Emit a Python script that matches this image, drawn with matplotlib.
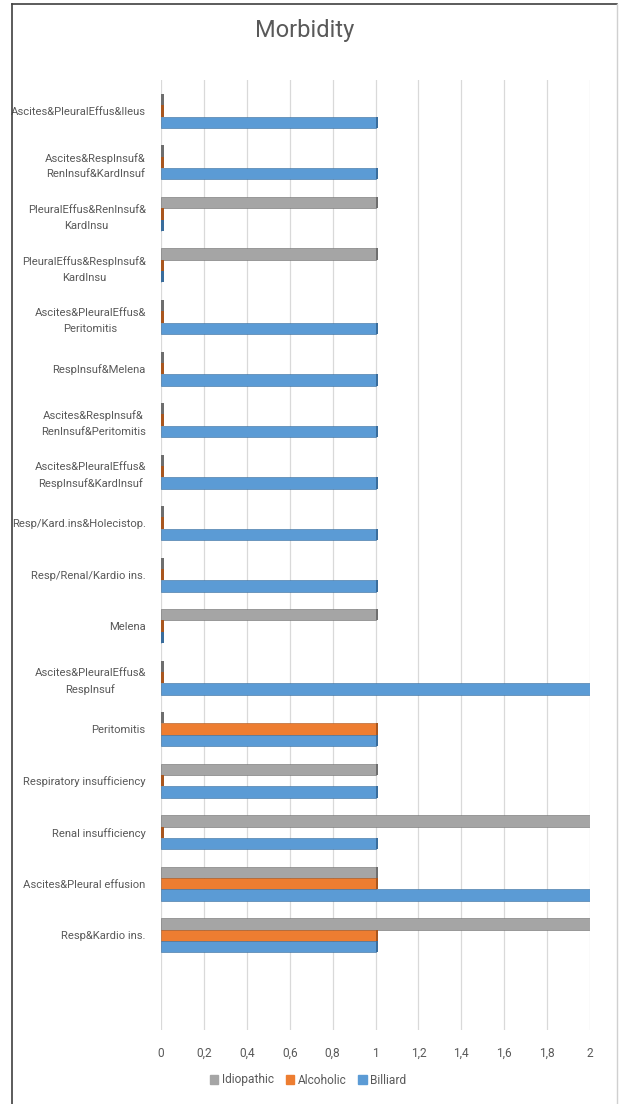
import matplotlib.pyplot as plt
import numpy as np
from matplotlib.patches import Patch
from matplotlib.lines import Line2D

GRAY = "#A5A5A5"
ORANGE = "#ED7D31"
BLUE = "#5B9BD5"
GRAY_SIDE = "#6E6E6E"
ORANGE_SIDE = "#A9561E"
BLUE_SIDE = "#3A6D9C"
TEXT = "#595959"

# bottom -> top
categories = [
    "Resp&Kardio ins.",
    "Ascites&Pleural effusion",
    "Renal insufficiency",
    "Respiratory insufficiency",
    "Peritomitis",
    "Ascites&PleuralEffus&\nRespInsuf",
    "Melena",
    "Resp/Renal/Kardio ins.",
    "Resp/Kard.ins&Holecistop.",
    "Ascites&PleuralEffus&\nRespInsuf&KardInsuf",
    "Ascites&RespInsuf&\nRenInsuf&Peritomitis",
    "RespInsuf&Melena",
    "Ascites&PleuralEffus&\nPeritomitis",
    "PleuralEffus&RespInsuf&\nKardInsu",
    "PleuralEffus&RenInsuf&\nKardInsu",
    "Ascites&RespInsuf&\nRenInsuf&KardInsuf",
    "Ascites&PleuralEffus&Ileus",
]
idiopathic = [2, 1, 2, 1, 0, 0, 1, 0, 0, 0, 0, 0, 0, 1, 1, 0, 0]
alcoholic = [1, 1, 0, 0, 1, 0, 0, 0, 0, 0, 0, 0, 0, 0, 0, 0, 0]
billiard = [1, 2, 1, 1, 1, 2, 0, 1, 1, 1, 1, 1, 1, 0, 0, 1, 1]
ticks = [0, 0.2, 0.4, 0.6, 0.8, 1, 1.2, 1.4, 1.6, 1.8, 2]
tick_labels = ["0", "0,2", "0,4", "0,6", "0,8", "1", "1,2", "1,4", "1,6", "1,8", "2"]

plt.rcParams["font.family"] = ["Roboto", "DejaVu Sans"]

W, H = 627, 1104
fig = plt.figure(figsize=(W / 100, H / 100), dpi=100)
fig.patch.set_facecolor("white")

ax = fig.add_axes([161 / W, 1 - 1030 / H, 429 / W, 950 / H])

y = np.arange(len(categories))
h = 0.22
depth = 0.013
series = [
    (idiopathic, h, GRAY, GRAY_SIDE),
    (alcoholic, 0, ORANGE, ORANGE_SIDE),
    (billiard, -h, BLUE, BLUE_SIDE),
]
for vals, off, col, side in series:
    vals = np.array(vals, dtype=float)
    ax.barh(y + off, vals, height=h, color=col, edgecolor=side, linewidth=0.4, zorder=3)
    ax.barh(y + off, depth, left=vals, height=h, color=side, linewidth=0, zorder=3)

ax.set_xlim(0, 2)
ax.set_ylim(-1.84, 16.6)
ax.set_xticks(ticks)
ax.set_xticklabels(tick_labels)
ax.set_yticks(y)
ax.set_yticklabels(categories, multialignment="center", linespacing=1.7)
ax.tick_params(axis="x", length=0, pad=12, labelsize=8.6, labelcolor=TEXT)
ax.tick_params(axis="y", length=0, pad=11, labelsize=8.1, labelcolor=TEXT)
ax.grid(axis="x", color="#D9D9D9", linewidth=0.9, zorder=0)
ax.grid(axis="y", visible=False)
for s in ax.spines.values():
    s.set_visible(False)

fig.text(305 / W, 1 - 30 / H, "Morbidity", ha="center", va="center", fontsize=17, color=TEXT)

handles = [Patch(color=GRAY), Patch(color=ORANGE), Patch(color=BLUE)]
fig.legend(handles, ["Idiopathic", "Alcoholic", "Billiard"], loc="center",
           bbox_to_anchor=(308 / W, 1 - 1080 / H), ncol=3, frameon=False,
           fontsize=8.6, labelcolor=TEXT, handlelength=0.7, handleheight=0.7,
           handletextpad=0.3, columnspacing=1.0)

# chart border
fig.add_artist(Line2D([12 / W, 12 / W], [0, 1 - 4 / H], color="#404040", linewidth=1.2))
fig.add_artist(Line2D([12 / W, 617 / W], [1 - 4 / H, 1 - 4 / H], color="#404040", linewidth=1.2))
fig.add_artist(Line2D([617 / W, 617 / W], [0, 1 - 4 / H], color="#D0D0D0", linewidth=1.0))

fig.savefig("out.png", dpi=100)
